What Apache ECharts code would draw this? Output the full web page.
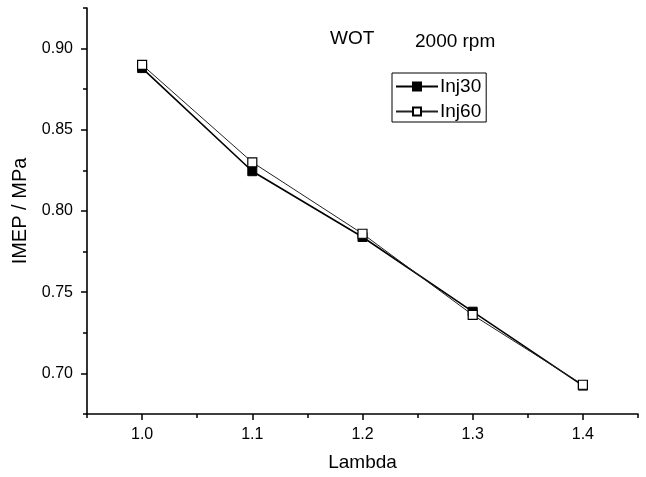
<!DOCTYPE html>
<html>
<head>
<meta charset="utf-8">
<script src="https://cdn.jsdelivr.net/npm/echarts@6/dist/echarts.min.js"></script>
<style>html,body{margin:0;padding:0;background:#fff}#c{width:646px;height:477px}</style>
</head>
<body>
<div id="c"></div>
<script>
const lambda = [1.0, 1.1, 1.2, 1.3, 1.4];
const inj30 = [0.888, 0.8245, 0.784, 0.738, 0.6925];
const inj60 = [0.890, 0.830, 0.786, 0.736, 0.693];
const xMajor = [1.0, 1.1, 1.2, 1.3, 1.4];
const xMinor = [0.95, 1.05, 1.15, 1.25, 1.35, 1.45];
const yMajor = [0.70, 0.75, 0.80, 0.85, 0.90];
const yMinor = [0.675, 0.725, 0.775, 0.825, 0.875, 0.925];

const FONT = '"Liberation Sans", Arial, sans-serif';
const chart = echarts.init(document.getElementById('c'));
const axisLine = {lineStyle: {color: '#000', width: 1.6}};
chart.setOption({
  animation: false,
  backgroundColor: '#fff',
  textStyle: {fontFamily: FONT, color: '#000'},
  grid: {left: 87, top: 8, right: 8, bottom: 62},
  title: [
    {text: 'WOT', left: 330, top: 29, padding: 0, textStyle: {fontSize: 19, fontWeight: 'normal', color: '#000', fontFamily: FONT}},
    {text: '2000 rpm', left: 415, top: 32, padding: 0, textStyle: {fontSize: 19, fontWeight: 'normal', color: '#000', fontFamily: FONT}}
  ],
  legend: {
    orient: 'vertical', left: 392, top: 73,
    borderColor: '#000', borderWidth: 1, padding: [4, 5, 1, 3],
    itemWidth: 42, itemHeight: 10, itemGap: 6,
    textStyle: {fontSize: 19, color: '#000', fontFamily: FONT, padding: [0, 0, 0, -3]},
    data: ['Inj30', 'Inj60']
  },
  xAxis: [
    {type: 'value', min: 0.95, max: 1.45, interval: 0.05,
     name: 'Lambda', nameLocation: 'middle', nameGap: 39,
     nameTextStyle: {fontSize: 19, color: '#000', fontFamily: FONT},
     axisLine: axisLine,
     axisTick: {customValues: xMajor, length: 6, lineStyle: {color: '#000', width: 1.5}},
     axisLabel: {customValues: xMajor, fontSize: 16, color: '#000', margin: 13, fontFamily: FONT, formatter: v => v.toFixed(1)},
     splitLine: {show: false}},
    {type: 'value', min: 0.95, max: 1.45, interval: 0.05, position: 'bottom',
     axisLine: {show: false},
     axisTick: {customValues: xMinor, length: 4, lineStyle: {color: '#000', width: 1.5}},
     axisLabel: {show: false}, splitLine: {show: false}}
  ],
  yAxis: [
    {type: 'value', min: 0.675, max: 0.925, interval: 0.025,
     name: 'IMEP / MPa', nameLocation: 'middle', nameGap: 57,
     nameTextStyle: {fontSize: 20, color: '#000', fontFamily: FONT},
     axisLine: axisLine,
     axisTick: {customValues: yMajor, length: 6, lineStyle: {color: '#000', width: 1.5}},
     axisLabel: {customValues: yMajor, fontSize: 16, color: '#000', margin: 14, fontFamily: FONT, formatter: v => v.toFixed(2)},
     splitLine: {show: false}},
    {type: 'value', min: 0.675, max: 0.925, interval: 0.025, position: 'left',
     axisLine: {show: false},
     axisTick: {customValues: yMinor, length: 4, lineStyle: {color: '#000', width: 1.5}},
     axisLabel: {show: false}, splitLine: {show: false}}
  ],
  series: [
    {name: 'Inj30', type: 'line', xAxisIndex: 0, yAxisIndex: 0,
     data: lambda.map((x, i) => [x, inj30[i]]),
     symbol: 'rect', symbolSize: 9,
     lineStyle: {color: '#000', width: 1.6},
     itemStyle: {color: '#000', borderColor: '#000', borderWidth: 1}, z: 2},
    {name: 'Inj60', type: 'line', xAxisIndex: 0, yAxisIndex: 0,
     data: lambda.map((x, i) => [x, inj60[i]]),
     symbol: 'rect', symbolSize: 9,
     lineStyle: {color: '#222', width: 1},
     itemStyle: {color: '#fff', borderColor: '#000', borderWidth: 1.2}, z: 3}
  ]
});
</script>
</body>
</html>
